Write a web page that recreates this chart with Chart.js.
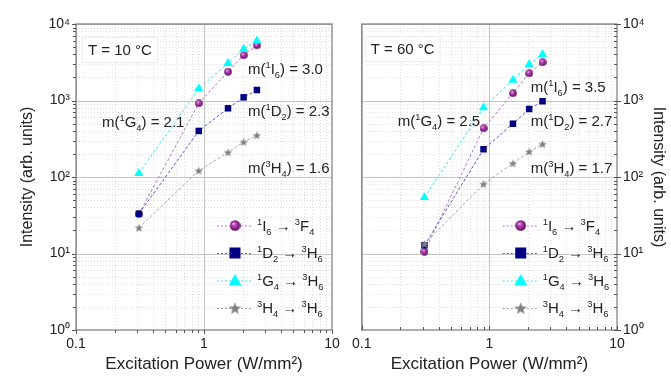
<!DOCTYPE html>
<html><head><meta charset="utf-8">
<script src="https://cdn.jsdelivr.net/npm/chart.js@4.4.1/dist/chart.umd.min.js"></script>
<style>
html,body{margin:0;padding:0;background:#fff;}
#wrap{position:relative;width:671px;height:376px;overflow:hidden;background:#fff}
.p{position:absolute;top:0;height:376px}
#pl{left:0;width:346px}
#pr{left:346px;width:325px}
canvas{display:block}
</style></head><body>
<div id="wrap">
<div class="p" id="pl"><canvas id="cl" width="346" height="376"></canvas></div>
<div class="p" id="pr"><canvas id="cr" width="325" height="376"></canvas></div>
</div>
<script>
// ---------------- data ----------------
const power10 = [0.31, 0.91, 1.54, 2.04, 2.59];
const I6_10 = [33, 919, 2380, 3900, 5260];
const D2_10 = [33, 400, 791, 1100, 1371];
const G4_10 = [112, 1427, 3064, 4710, 6030];
const H4_10 = [21.7, 121, 210, 287, 351];

const power60 = [0.31, 0.90, 1.53, 2.05, 2.61];
const I6_60 = [10.6, 433, 1242, 2266, 3160];
const D2_60 = [12.8, 230, 497, 774, 977];
const G4_60 = [54, 805, 1853, 2970, 4020];
const H4_60 = [13.3, 81, 151, 214, 270];

const seriesNames = ['\u00B9I\u2086 \u2192 \u00B3F\u2084', '\u00B9D\u2082 \u2192 \u00B3H\u2086', '\u00B9G\u2084 \u2192 \u00B3H\u2086', '\u00B3H\u2084 \u2192 \u00B3H\u2086'];
const legendMarkup = ['^1I_6 \u2192 ^3F_4', '^1D_2 \u2192 ^3H_6', '^1G_4 \u2192 ^3H_6', '^3H_4 \u2192 ^3H_6'];
const levelMarkup = ['^1I_6', '^1D_2', '^1G_4', '^3H_4'];
const slopes10 = ['3.0', '2.3', '2.1', '1.6'];
const slopes60 = ['3.5', '2.7', '2.5', '1.7'];
const tempLabels = ['T = 10 \u00B0C', 'T = 60 \u00B0C'];

const xDecades = [0.1, 1, 10];
const xTickLabels = ['0.1', '1', '10'];
const yDecades = [1, 10, 100, 1000, 10000];
const yTickLabels = ['10\u2070', '10\u00B9', '10\u00B2', '10\u00B3', '10\u2074'];
const xTitle = 'Excitation Power (W/mm\u00B2)';
const yTitle = 'Intensity (arb. units)';

// ---------------- styles ----------------
const FONT = '"Liberation Sans", Arial, Helvetica, sans-serif';
const TEXT = '#222';
const lineColors = ['#b878c8', '#5a5ac8', '#40e4ee', '#a8a8a8'];
const markColors = ['#800080', '#000080', '#00ffff', '#808080'];

function makeSphere(d) {
  const c = document.createElement('canvas'); c.width = c.height = d;
  const g = c.getContext('2d'); const r = d / 2;
  const grad = g.createRadialGradient(r * 0.72, r * 0.62, 0, r, r, r);
  grad.addColorStop(0, '#fbe6fb');
  grad.addColorStop(0.3, '#c050c0');
  grad.addColorStop(1, '#5c005c');
  g.fillStyle = grad; g.beginPath(); g.arc(r, r, r - 0.2, 0, Math.PI * 2); g.fill();
  return c;
}
function makeStar(d, color) {
  const c = document.createElement('canvas'); c.width = c.height = d;
  const g = c.getContext('2d'); const R = d / 2, ri = R * 0.42, cy = R + R * 0.1;
  g.fillStyle = color; g.beginPath();
  for (let i = 0; i < 10; i++) {
    const a = -Math.PI / 2 + i * Math.PI / 5, rr = i % 2 ? ri : R;
    const px = R + rr * Math.cos(a), py = cy + rr * Math.sin(a);
    i ? g.lineTo(px, py) : g.moveTo(px, py);
  }
  g.closePath(); g.fill();
  return c;
}
const sphereS = makeSphere(8), sphereL = makeSphere(11);
const starS = makeStar(9, markColors[3]), starL = makeStar(13, markColors[3]);

function isDecade(v) { return Math.abs(Math.log10(v) - Math.round(Math.log10(v))) < 1e-6; }
function decadeIndex(list, v) { return list.findIndex(d => Math.abs(Math.log10(v / d)) < 1e-6); }

function parseMarkup(s) {
  const parts = []; let buf = '';
  for (let i = 0; i < s.length; i++) {
    const ch = s[i];
    if ((ch === '^' || ch === '_') && i + 1 < s.length) {
      if (buf) { parts.push([buf, 0]); buf = ''; }
      parts.push([s[i + 1], ch === '^' ? 1 : -1]); i++;
    } else buf += ch;
  }
  if (buf) parts.push([buf, 0]);
  return parts;
}
function richWidth(ctx, parts, size) {
  let w = 0;
  for (const [t, k] of parts) { ctx.font = (k ? size * 0.62 : size) + 'px ' + FONT; w += ctx.measureText(t).width; }
  return w;
}
function drawRich(ctx, markup, x, cy, size, color) {
  const parts = parseMarkup(markup);
  const base = cy + size * 0.36;
  let cx = x;
  ctx.fillStyle = color; ctx.textBaseline = 'alphabetic'; ctx.textAlign = 'left';
  for (const [t, k] of parts) {
    const s = k ? size * 0.62 : size;
    ctx.font = s + 'px ' + FONT;
    const dy = k === 1 ? -size * 0.42 : (k === -1 ? size * 0.24 : 0);
    ctx.fillText(t, cx, base + dy);
    cx += ctx.measureText(t).width;
  }
  return cx - x;
}

function gridValues(decs) {
  const v = [];
  for (let i = 0; i < decs.length - 1; i++) for (let k = 1; k <= 9; k++) v.push(decs[i] * k);
  v.push(decs[decs.length - 1]);
  return v;
}

// ---------------- panel plugin ----------------
const panelPlugin = {
  id: 'panel',
  beforeDatasetsDraw(chart) {
    const { ctx, chartArea: a, scales: { x, y } } = chart;
    ctx.save();
    ctx.beginPath(); ctx.rect(a.left, a.top, a.right - a.left, a.bottom - a.top); ctx.clip();
    ctx.lineWidth = 1;
    for (const v of gridValues(xDecades)) {
      const px = Math.round(x.getPixelForValue(v)) + 0.5;
      const maj = isDecade(v);
      ctx.strokeStyle = maj ? '#c4c4c4' : '#dedede';
      ctx.setLineDash(maj ? [] : [1, 2]);
      ctx.beginPath(); ctx.moveTo(px, a.top); ctx.lineTo(px, a.bottom); ctx.stroke();
    }
    for (const v of gridValues(yDecades)) {
      const py = Math.round(y.getPixelForValue(v)) + 0.5;
      const maj = isDecade(v);
      ctx.strokeStyle = maj ? '#c4c4c4' : '#dedede';
      ctx.setLineDash(maj ? [] : [1, 2]);
      ctx.beginPath(); ctx.moveTo(a.left, py); ctx.lineTo(a.right, py); ctx.stroke();
    }
    ctx.restore();
  },
  afterDatasetsDraw(chart, args, opts) {
    const { ctx, chartArea: a, scales: { x, y } } = chart;
    const cfg = opts;
    ctx.save();
    // temperature box
    ctx.font = '15px ' + FONT;
    const tw = ctx.measureText(cfg.temp).width;
    const tx = a.left + cfg.tempPos[0], ty = a.top + cfg.tempPos[1];
    ctx.fillStyle = '#fff'; ctx.fillRect(tx - 5, ty - 12, tw + 10, 24);
    ctx.strokeStyle = '#ececec'; ctx.lineWidth = 1; ctx.strokeRect(tx - 5.5, ty - 12.5, tw + 11, 25);
    ctx.fillStyle = TEXT; ctx.textBaseline = 'middle'; ctx.textAlign = 'left';
    ctx.fillText(cfg.temp, tx, ty + 1);
    // slope notes
    cfg.slopes.forEach((s, i) => {
      const p = cfg.notePos[i];
      drawRich(ctx, 'm(' + levelMarkup[i] + ') = ' + s, a.left + p[0], a.top + p[1], 15, TEXT);
    });
    // legend
    const L = cfg.legend;
    legendMarkup.forEach((m, i) => {
      const cy = a.top + L.top + i * L.step;
      ctx.strokeStyle = lineColors[i]; ctx.lineWidth = 1; ctx.setLineDash([2, 2]);
      ctx.beginPath(); ctx.moveTo(a.left + L.x0, cy + 0.5); ctx.lineTo(a.left + L.x1, cy + 0.5); ctx.stroke();
      ctx.setLineDash([]);
      const mx = a.left + L.mx;
      if (i === 0) ctx.drawImage(sphereL, mx - 5.5, cy - 5.5);
      else if (i === 1) { ctx.fillStyle = markColors[1]; ctx.fillRect(mx - 5.5, cy - 5.5, 11, 11); }
      else if (i === 2) {
        ctx.fillStyle = markColors[2]; ctx.beginPath();
        ctx.moveTo(mx, cy - 6.5); ctx.lineTo(mx + 6.5, cy + 5); ctx.lineTo(mx - 6.5, cy + 5); ctx.closePath(); ctx.fill();
      } else ctx.drawImage(starL, mx - 6.5, cy - 6.5);
      drawRich(ctx, m, a.left + L.tx, cy, 15, TEXT);
    });
    // frame
    ctx.strokeStyle = '#7a7a7a'; ctx.lineWidth = 1.2;
    ctx.strokeRect(a.left, a.top, a.right - a.left, a.bottom - a.top);
    // tick marks
    ctx.lineWidth = 1; ctx.strokeStyle = '#555';
    const xin = cfg.side === 'right';
    for (const v of gridValues(xDecades)) {
      const px = Math.round(x.getPixelForValue(v)) + 0.5;
      const len = isDecade(v) ? 4 : 3;
      ctx.beginPath();
      if (xin) { ctx.moveTo(px, a.bottom); ctx.lineTo(px, a.bottom - len); }
      else { ctx.moveTo(px, a.bottom); ctx.lineTo(px, a.bottom + len); }
      ctx.stroke();
    }
    for (const v of gridValues(yDecades)) {
      const py = Math.round(y.getPixelForValue(v)) + 0.5;
      const maj = isDecade(v);
      ctx.beginPath();
      if (cfg.side === 'left') { ctx.moveTo(a.left, py); ctx.lineTo(a.left - (maj ? 4 : 3), py); }
      else {
        if (maj) { ctx.moveTo(a.right - 3, py); ctx.lineTo(a.right + 4, py); }
        else { ctx.moveTo(a.right, py); ctx.lineTo(a.right - 3, py); }
      }
      ctx.stroke();
    }
    ctx.restore();
  }
};

function series(xs, ys, i, order) {
  const styles = [sphereS, 'rect', 'triangle', starS];
  const radii = [4, 4.6, 5.3, 4.5];
  return {
    label: seriesNames[i],
    data: xs.map((xv, k) => ({ x: xv, y: ys[k] })),
    showLine: true,
    borderColor: lineColors[i],
    borderWidth: 1,
    borderDash: [3, 2],
    pointStyle: styles[i],
    pointRadius: radii[i],
    pointBackgroundColor: markColors[i],
    pointBorderColor: markColors[i],
    pointBorderWidth: 0,
    order: order
  };
}

function makeChart(id, side, xs, sets, slopes, temp, notePos, tempPos) {
  const yPad = side === 'left' ? 6 : 6;
  return new Chart(document.getElementById(id), {
    type: 'scatter',
    data: {
      datasets: [
        series(xs, sets[0], 0, 4),
        series(xs, sets[1], 1, 3),
        series(xs, sets[2], 2, 2),
        series(xs, sets[3], 3, 1)
      ]
    },
    options: {
      responsive: false, animation: false, devicePixelRatio: 1, events: [],
      layout: { padding: side === 'left' ? { left: 14, top: 24, right: 14, bottom: 0 } : { left: 15, top: 24, right: 0, bottom: 0 } },
      plugins: {
        legend: { display: false }, tooltip: { enabled: false },
        panel: {
          side: side, temp: temp, tempPos: tempPos, slopes: slopes, notePos: notePos,
          legend: { top: 201.5, step: 27.5, x0: 141, x1: 177, mx: 159, tx: 181 }
        }
      },
      scales: {
        x: {
          type: 'logarithmic', position: 'bottom', min: 0.1, max: 10,
          afterBuildTicks: s => { s.ticks = s.ticks.filter(t => isDecade(t.value)); },
          afterFit: s => { s.height = 46; },
          grid: { display: false, drawTicks: false },
          border: { display: false },
          ticks: {
            autoSkip: false, maxRotation: 0, minRotation: 0, padding: 6,
            color: TEXT, font: { family: FONT, size: 14 },
            callback: v => { const i = decadeIndex(xDecades, v); return i >= 0 ? xTickLabels[i] : ''; }
          },
          title: { display: true, text: xTitle, color: TEXT, font: { family: FONT, size: 17 }, padding: { top: 0, bottom: 1 } }
        },
        y: {
          type: 'logarithmic', position: side, min: 1, max: 10000,
          afterBuildTicks: s => { s.ticks = s.ticks.filter(t => isDecade(t.value)); },
          afterFit: s => { s.width = side === 'left' ? 62 : 54; },
          grid: { display: false, drawTicks: false },
          border: { display: false },
          ticks: {
            autoSkip: false, padding: yPad,
            color: TEXT, font: { family: FONT, size: 14 },
            callback: v => { const i = decadeIndex(yDecades, v); return i >= 0 ? yTickLabels[i] : ''; }
          },
          title: { display: true, text: yTitle, color: TEXT, font: { family: FONT, size: 16 }, padding: { top: side === 'left' ? 4 : 3, bottom: 0 } }
        }
      }
    },
    plugins: [panelPlugin]
  });
}

makeChart('cl', 'left', power10, [I6_10, D2_10, G4_10, H4_10], slopes10, tempLabels[0],
  [[172, 45], [172, 87], [26, 98], [172, 144]], [12, 26]);
makeChart('cr', 'right', power60, [I6_60, D2_60, G4_60, H4_60], slopes60, tempLabels[1],
  [[169, 63], [169, 97], [36, 97], [169, 144]], [9, 25]);
</script>
</body></html>
